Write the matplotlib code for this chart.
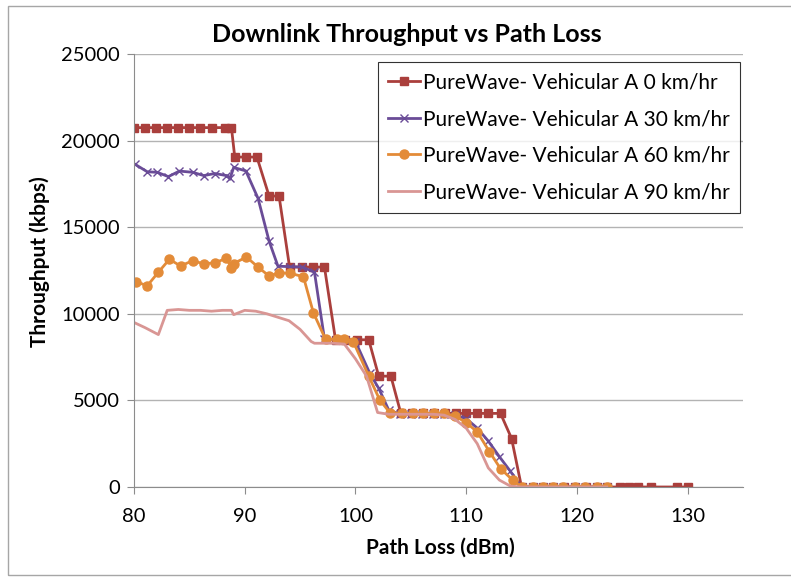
import matplotlib.pyplot as plt
from matplotlib.patches import Rectangle

plt.rcParams['font.family'] = ['Lato', 'DejaVu Sans']

# Path loss (dBm) / throughput (kbps) per vehicle speed
loss_0 = [80, 81, 82, 83, 84, 85, 86, 87, 88.2, 88.8,
          89.1, 90.1, 91.1, 92.2, 93.1, 94.05, 95.2, 96.2, 97.2,
          98.2, 99.1, 100.1, 101.2, 102.1, 103.2,
          104.1, 105.1, 106.1, 107.1, 108.1, 109.1, 110, 111, 112, 113.1,
          114.1, 115, 116, 116.9, 117.8, 118.8, 119.8, 120.8, 121.8, 122.7,
          123.9, 124.7, 125.5, 126.7, 129, 130]
tput_0 = [20750] * 10 + [19050] * 3 + [16800] * 2 + [12700] * 4 + \
         [8500] * 4 + [6400] * 2 + [4250] * 10 + [2800] + [0] * 15

loss_30 = [80.1, 81.2, 82.1, 83.1, 84.1, 85.3, 86.3, 87.3, 88.35, 88.7,
           89.0, 90.1, 91.2, 92.2, 93.0, 94.1, 95.2, 96.3, 97.2, 98.2,
           99.1, 100.0, 101.3, 102.1, 103.0, 104.0, 105, 106, 107, 108,
           109, 110, 111, 112, 113, 114, 115, 116, 116.9, 117.8, 118.7,
           119.8, 120.7, 121.8, 122.7]
tput_30 = [18630, 18200, 18170, 17920, 18240, 18170, 17980, 18100, 17980, 17860,
           18450, 18250, 16670, 14200, 12750, 12720, 12700, 12400, 8550, 8500,
           8480, 8400, 6560, 5700, 4450, 4200, 4200, 4200, 4200, 4200,
           4150, 3950, 3400, 2650, 1750, 900, 0, 0, 0, 0, 0,
           0, 0, 0, 0]

loss_60 = [80.2, 81.2, 82.2, 83.2, 84.2, 85.3, 86.3, 87.3, 88.35, 88.8,
           89.0, 90.15, 91.2, 92.2, 93.1, 94.1, 95.3, 96.2, 97.3, 98.3,
           99.0, 99.8, 101.2, 102.2, 103.1, 104.2, 105.2, 106.1, 107.05, 108,
           109, 110, 111, 112.1, 113.1, 114.2, 115, 116, 116.9, 117.8,
           118.7, 119.8, 120.7, 121.8, 122.7]
tput_60 = [11850, 11620, 12400, 13150, 12760, 13070, 12880, 12950, 13200, 12650,
           12900, 13280, 12700, 12180, 12370, 12340, 12140, 10060, 8530, 8530,
           8530, 8400, 6400, 5020, 4300, 4250, 4250, 4250, 4250, 4250,
           4100, 3720, 3180, 2040, 1060, 400, 0, 0, 0, 0,
           0, 0, 0, 0, 0]

loss_90 = [80, 81, 82.2, 83, 84, 85, 86, 87, 88, 88.8,
           89.0, 89.2, 90, 91, 92, 93, 94, 95, 96, 96.3,
           98, 99, 100, 101, 102, 103, 104, 105, 106, 107,
           108, 109, 110, 111, 112, 113, 114, 115, 122.7]
tput_90 = [9500, 9200, 8800, 10200, 10250, 10200, 10200, 10150, 10200, 10200,
           9950, 10000, 10200, 10150, 10000, 9800, 9600, 9100, 8400, 8300,
           8300, 8250, 7400, 6400, 4300, 4200, 4200, 4200, 4200, 4200,
           4150, 3900, 3400, 2500, 1100, 400, 50, 0, 0]

labels = ['PureWave- Vehicular A 0 km/hr', 'PureWave- Vehicular A 30 km/hr',
          'PureWave- Vehicular A 60 km/hr', 'PureWave- Vehicular A 90 km/hr']

fig = plt.figure(figsize=(7.91, 5.79), dpi=100)
fig.patches.append(Rectangle((8 / 791, 4 / 579), 1.0, 569 / 579, transform=fig.transFigure,
                             fill=False, edgecolor='#a6a6a6', linewidth=1.0))
ax = fig.add_axes([134 / 791, 1 - 487 / 579, (743 - 134) / 791, (487 - 54) / 579])

ax.plot(loss_0, tput_0, color='#AA3F3C', lw=2, marker='s', ms=5.5, label=labels[0])
ax.plot(loss_30, tput_30, color='#6A4C97', lw=2, marker='x', ms=5.5, mew=1, label=labels[1])
ax.plot(loss_60, tput_60, color='#E38B38', lw=2, marker='o', ms=6.5, label=labels[2])
ax.plot(loss_90, tput_90, color='#D99694', lw=2, label=labels[3])

ax.set_xlim(80, 135)
ax.set_ylim(0, 25000)
ax.set_xticks(range(80, 131, 10))
ax.set_yticks(range(0, 25001, 5000))
ax.yaxis.grid(True, color='#b3b3b3', lw=1)
ax.set_axisbelow(True)
for s in ['top', 'right']:
    ax.spines[s].set_visible(False)
for s in ['left', 'bottom']:
    ax.spines[s].set_color('#8c8c8c')
ax.tick_params(colors='#8c8c8c', labelcolor='black', labelsize=14.5, length=5,
               direction='out', pad=5)
ax.tick_params(axis='x', pad=10)

fig.text(407 / 791, 1 - 35 / 579, 'Downlink Throughput vs Path Loss', fontsize=18,
         fontweight='bold', ha='center', va='center')
fig.text(440 / 791, 1 - 548 / 579, 'Path Loss (dBm)', fontsize=15, fontweight='bold',
         ha='center', va='center')
fig.text(40 / 791, 1 - 262 / 579, 'Throughput (kbps)', fontsize=15, fontweight='bold',
         ha='center', va='center', rotation=90)

leg = ax.legend(loc='upper left', bbox_to_anchor=(378 / 791, 1 - 62 / 579),
                bbox_transform=fig.transFigure, fontsize=15, frameon=True,
                fancybox=False, handlelength=1.5, handletextpad=0.15,
                labelspacing=0.8, borderpad=0.5, borderaxespad=0)
leg.get_frame().set_edgecolor('black')
leg.get_frame().set_linewidth(0.8)

fig.savefig('out.png', dpi=100)
